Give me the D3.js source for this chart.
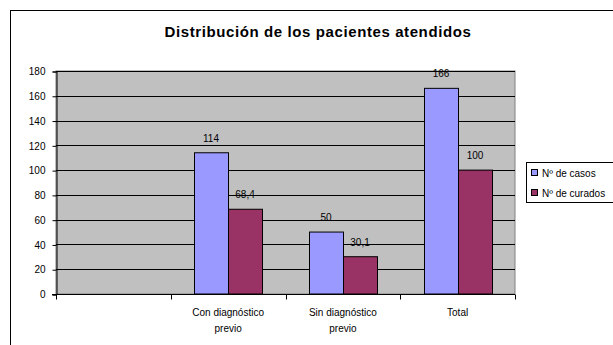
<!DOCTYPE html>
<html>
<head>
<meta charset="utf-8">
<script src="https://cdn.jsdelivr.net/npm/d3@7"></script>
<style>
  html, body { margin: 0; padding: 0; background: #fff; }
  svg { display: block; font-family: "Liberation Sans", Arial, sans-serif; }
</style>
</head>
<body>
<svg id="chart" width="613" height="345"></svg>
<script>
// Categories (the first group has no data) and the two series
const categories = ["", "Con diagnóstico|previo", "Sin diagnóstico|previo", "Total"];
const seriesNames = ["Nº de casos", "Nº de curados"];
const seriesA = [null, 114, 50, 166];
const seriesB = [null, 68.4, 30.1, 100];
const yTicks = [0, 20, 40, 60, 80, 100, 120, 140, 160, 180];
const colors = ["#9999ff", "#993366"];

const svg = d3.select("#chart");
const plot = { left: 56, top: 71, right: 515, bottom: 294 };

// outer chart frame
svg.append("rect")
  .attr("x", 10.5).attr("y", 10.5)
  .attr("width", 700).attr("height", 400)
  .attr("fill", "#fff").attr("stroke", "#000");

// title
svg.append("text")
  .attr("x", 318).attr("y", 37)
  .attr("text-anchor", "middle")
  .attr("font-weight", "bold").attr("font-size", 15)
  .attr("letter-spacing", 0.6)
  .text("Distribución de los pacientes atendidos");

const x = d3.scaleBand().domain(d3.range(categories.length))
  .range([plot.left, plot.right]).paddingInner(0).paddingOuter(0);
const y = d3.scaleLinear().domain([0, 180]).range([plot.bottom, plot.top]);

// plot area background
svg.append("rect")
  .attr("x", plot.left).attr("y", plot.top)
  .attr("width", plot.right - plot.left).attr("height", plot.bottom - plot.top)
  .attr("fill", "#c0c0c0").attr("stroke", "#808080");

// horizontal gridlines
svg.append("g").selectAll("line").data(yTicks.slice(1)).join("line")
  .attr("x1", plot.left).attr("x2", plot.right)
  .attr("y1", d => Math.round(y(d)) + 0.5).attr("y2", d => Math.round(y(d)) + 0.5)
  .attr("stroke", "#000");

// y axis
const yAxis = d3.axisLeft(y).tickValues(yTicks).tickSize(4).tickPadding(7)
  .tickFormat(d3.format("d"));
const gy = svg.append("g").attr("transform", `translate(${plot.left + 0.5},0.5)`).call(yAxis);
gy.select(".domain").attr("stroke", "#000");
gy.selectAll("text").attr("font-size", 10).attr("font-family", "Liberation Sans, Arial, sans-serif").attr("fill", "#000");

// x axis: tick marks on category boundaries
const gx = svg.append("g").attr("transform", `translate(0,${plot.bottom + 0.5})`);
gx.append("line").attr("x1", plot.left - 4).attr("x2", plot.right).attr("stroke", "#000");
gx.selectAll("line.tk").data(d3.range(categories.length + 1)).join("line")
  .attr("class", "tk")
  .attr("x1", i => Math.round(plot.left + i * x.bandwidth()) + 0.5)
  .attr("x2", i => Math.round(plot.left + i * x.bandwidth()) + 0.5)
  .attr("y1", 0).attr("y2", 5).attr("stroke", "#000");

// category labels (two lines where needed)
categories.forEach((c, i) => {
  if (!c) return;
  const t = svg.append("text")
    .attr("text-anchor", "middle")
    .attr("font-size", 10)
    .attr("x", x(i) + x.bandwidth() / 2);
  c.split("|").forEach((line, k) => {
    t.append("tspan").attr("x", x(i) + x.bandwidth() / 2)
      .attr("y", 316 + k * 16).text(line);
  });
});

// bars
const barW = 34;
const fmt = v => d3.format(",~r")(v).replace(".", ",");
[seriesA, seriesB].forEach((vals, s) => {
  const g = svg.append("g");
  vals.forEach((v, i) => {
    if (v == null) return;
    const cx = x(i) + x.bandwidth() / 2;
    const bx = Math.round(cx - barW + s * barW);
    g.append("rect")
      .attr("x", bx + 0.5).attr("y", y(v))
      .attr("width", barW).attr("height", plot.bottom - y(v))
      .attr("fill", colors[s]).attr("stroke", "#000");
    g.append("text")
      .attr("x", bx + barW / 2).attr("y", y(v) - 11)
      .attr("text-anchor", "middle").attr("font-size", 10)
      .text(fmt(v));
  });
});

// legend
const lg = svg.append("g");
lg.append("rect").attr("x", 526.5).attr("y", 162.5)
  .attr("width", 120).attr("height", 40)
  .attr("fill", "#fff").attr("stroke", "#000");
seriesNames.forEach((n, i) => {
  const cy = 173 + i * 20;
  lg.append("rect").attr("x", 531.5).attr("y", cy - 3.5)
    .attr("width", 6).attr("height", 6)
    .attr("fill", colors[i]).attr("stroke", "#000");
  lg.append("text").attr("x", 542).attr("y", cy + 3.5)
    .attr("font-size", 10).text(n);
});
</script>
</body>
</html>
